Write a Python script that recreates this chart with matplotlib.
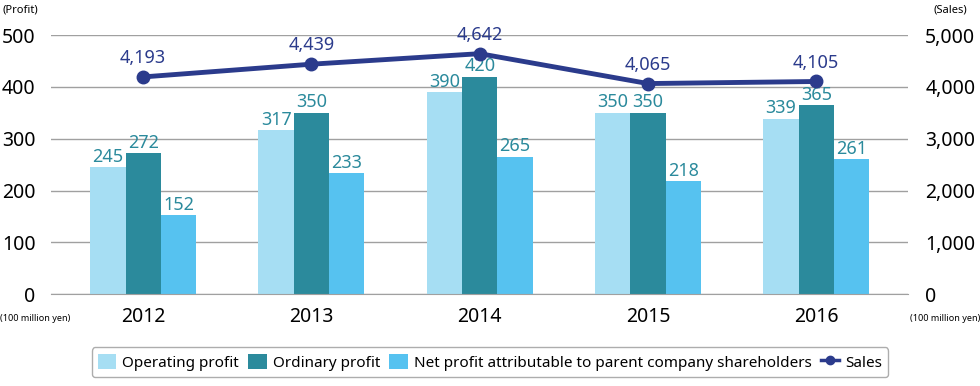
import matplotlib.pyplot as plt
from matplotlib.lines import Line2D
import numpy as np

plt.rcParams['font.family'] = ['Noto Sans', 'DejaVu Sans']

years = ["2012", "2013", "2014", "2015", "2016"]
operating = [245, 317, 390, 350, 339]
ordinary = [272, 350, 420, 350, 365]
net_profit = [152, 233, 265, 218, 261]
sales = [4193, 4439, 4642, 4065, 4105]

c_oper = "#a6def3"
c_ord = "#2b8a9c"
c_net = "#56c2f0"
c_sales = "#2b3b8c"
c_grid = "#a0a0a0"

fig = plt.figure(figsize=(9.8, 3.86), dpi=100)
ax = fig.add_axes([0.052, 0.238, 0.875, 0.671])
ax2 = ax.twinx()

x = np.arange(len(years))
w = 0.21

bars = []
for off, vals, col, name in [(-w, operating, c_oper, "Operating profit"),
                             (0, ordinary, c_ord, "Ordinary profit"),
                             (w, net_profit, c_net, "Net profit attributable to parent company shareholders")]:
    b = ax.bar(x + off, vals, w, color=col, label=name, zorder=2)
    bars.append(b)
    for xi, v in zip(x + off, vals):
        ax.annotate(str(v), (xi, v), xytext=(0, 1), textcoords="offset points",
                    ha="center", va="bottom", fontsize=13, color=c_ord, zorder=3)

ax.set_ylim(0, 500)
ax.set_xlim(-0.548, 4.548)
ax.set_yticks(range(0, 501, 100))
ax.set_xticks(x)
ax.set_xticklabels(years, fontsize=14)
ax.tick_params(axis="y", length=0, labelsize=14, pad=11)
ax.tick_params(axis="x", length=0, pad=9)
ax.yaxis.grid(True, color=c_grid, linewidth=1, zorder=0)
ax.set_axisbelow(True)
for s in ["top", "left", "right"]:
    ax.spines[s].set_visible(False)
ax.spines["bottom"].set_color(c_grid)

ax2.set_zorder(ax.get_zorder() + 1)
ax2.patch.set_visible(False)
ax2.plot(x, sales, color=c_sales, linewidth=3.5, marker="o", markersize=9)
for xi, v in zip(x, sales):
    ax2.annotate(f"{v:,}", (xi, v), xytext=(0, 7), textcoords="offset points",
                 ha="center", va="bottom", fontsize=13, color=c_sales)
ax2.set_ylim(0, 5000)
ax2.set_yticks(range(0, 5001, 1000))
ax2.set_yticklabels([f"{v:,}" for v in range(0, 5001, 1000)])
ax2.tick_params(axis="y", length=0, labelsize=14, pad=12)
for s in ["top", "left", "right", "bottom"]:
    ax2.spines[s].set_visible(False)

fig.text(0.003, 0.975, "(Profit)", fontsize=8, ha="left", va="center")
fig.text(0.987, 0.975, "(Sales)", fontsize=8, ha="right", va="center")
fig.text(0.0, 0.175, "(100 million yen)", fontsize=6.5, ha="left", va="center")
fig.text(1.0, 0.175, "(100 million yen)", fontsize=6.5, ha="right", va="center")

sales_handle = Line2D([], [], color=c_sales, linewidth=2.5, marker="o", markersize=6, label="Sales")
leg = fig.legend(handles=bars + [sales_handle], loc="center", bbox_to_anchor=(0.5, 0.062), ncol=4,
                 fontsize=11, frameon=True, fancybox=True, edgecolor="#999999",
                 handlelength=1.2, handleheight=1.2, handletextpad=0.4, columnspacing=0.6,
                 borderpad=0.4)
leg.get_frame().set_linewidth(1)

fig.savefig("out.png", dpi=100)
